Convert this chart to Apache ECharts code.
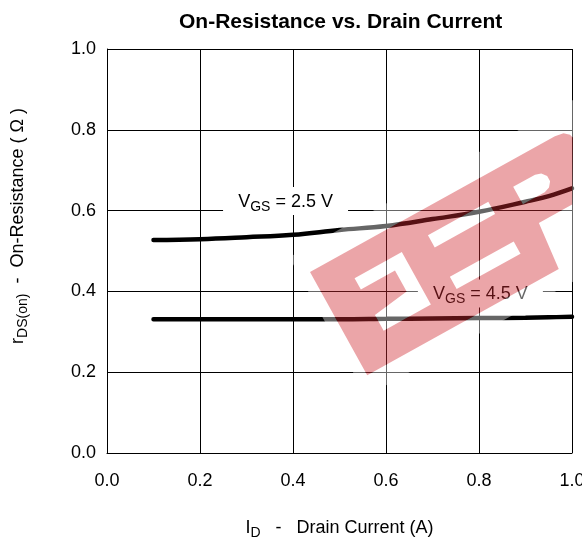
<!DOCTYPE html>
<html>
<head>
<meta charset="utf-8">
<script src="https://cdn.jsdelivr.net/npm/echarts@6/dist/echarts.min.js"></script>
<style>
html,body{margin:0;padding:0;background:#ffffff;overflow:hidden;}
#chart{width:582px;height:540px;}
</style>
</head>
<body>
<div id="chart"></div>
<script>
// ---- data ----
const drainCurrentA = [0.1, 0.2, 0.3, 0.4, 0.5, 0.6, 0.7, 0.8, 0.9, 0.95, 1.0];
const rdsVgs25 = [0.527, 0.529, 0.534, 0.540, 0.552, 0.562, 0.579, 0.597, 0.622, 0.636, 0.655];
const rdsVgs45 = [0.331, 0.331, 0.331, 0.331, 0.331, 0.332, 0.333, 0.334, 0.335, 0.336, 0.337];
const seriesNames = ['VGS = 2.5 V', 'VGS = 4.5 V'];
const xTickLabels = ['0.0', '0.2', '0.4', '0.6', '0.8', '1.0'];
const yTickLabels = ['0.0', '0.2', '0.4', '0.6', '0.8', '1.0'];

// annotation anchors (data coordinates of the curve labels)
const label25At = [0.384, 0.624];
const label45At = [0.803, 0.395];

const FONT = "'Liberation Sans', Arial, Helvetica, sans-serif";

function pairs(xs, ys) { return xs.map((x, i) => [x, ys[i]]); }

// ---- watermark (red translucent logo drawn over the plot) ----
function polyArea(p) { let s = 0; for (let i = 0; i < p.length; i++) { const a = p[i], b = p[(i + 1) % p.length]; s += a[0] * b[1] - b[0] * a[1]; } return s / 2; }
function orient(p, positive) { return (polyArea(p) > 0) === positive ? p : p.slice().reverse(); }
const wmOuter = [[0,0],[280,0],[289,1.5],[294,6],[295,10],[262,68],[224,68],[219,118],[0,118]];
const wmHoles = [
  [[36,27],[90,27],[90,87],[36,87],[36,69],[75,64],[75,40],[36,40]],
  [[121,25],[190,25],[190,39],[121,39]],
  [[120,72],[193,72],[193,86],[120,86]],
  [[219,24],[244,24],[250,26],[254,31],[254,37],[250,42],[244,44],[219,44]]
];
const wmFrame = [[-11,-23],[330,-23],[330,136],[-11,136]];
const redPolys = [orient(wmOuter, true)].concat(wmHoles.map(h => orient(h, false)));
const whitePolys = [orient(wmFrame, true), orient(wmOuter, false)].concat(wmHoles.map(h => orient(h, true)));

let wmType = null;
try {
  const WmShape = echarts.graphic.extendShape({
    shape: { polys: [] },
    buildPath: function (ctx, shape) {
      (shape.polys || []).forEach(function (p) {
        ctx.moveTo(p[0][0], p[0][1]);
        for (let i = 1; i < p.length; i++) ctx.lineTo(p[i][0], p[i][1]);
        ctx.closePath();
      });
    }
  });
  echarts.graphic.registerShape('wmPath', WmShape);
  wmType = 'wmPath';
} catch (e) { wmType = null; }

const graphic = [];
if (wmType) {
  graphic.push({
    type: 'group', x: 310, y: 272, rotation: 29 * Math.PI / 180, z: 100, silent: true,
    children: [
      { type: wmType, z: 100, shape: { polys: whitePolys }, style: { fill: 'rgba(255,255,255,0.4)' } },
      { type: wmType, z: 100, shape: { polys: redPolys }, style: { fill: 'rgba(207,40,48,0.42)' } }
    ]
  });
}

const subRich = {
  m: { fontSize: 18, lineHeight: 18, verticalAlign: 'top', color: '#000', fontFamily: FONT },
  s: { fontSize: 14, lineHeight: 28, color: '#000', fontFamily: FONT }
};

function curveLabel(coord, text) {
  return {
    silent: true,
    symbol: 'rect',
    symbolSize: [125, 28],
    itemStyle: { color: '#ffffff', borderWidth: 0 },
    label: {
      show: true, position: 'inside', offset: [0, 6],
      formatter: '{m|V}{s|GS}{m| = ' + text + '}',
      rich: subRich
    },
    data: [{ coord: coord }]
  };
}

const chart = echarts.init(document.getElementById('chart'), null, { renderer: 'canvas' });
chart.setOption({
  animation: false,
  backgroundColor: '#ffffff',
  title: {
    text: 'On-Resistance vs. Drain Current',
    left: 179, top: 10, padding: 0,
    textStyle: { fontSize: 21, fontWeight: 'bold', color: '#000', fontFamily: FONT, lineHeight: 24 }
  },
  grid: { left: 107, right: 10, top: 49, bottom: 87, containLabel: false, outerBoundsMode: 'none' },
  xAxis: {
    type: 'value', min: 0, max: 1, interval: 0.2,
    axisLine: { show: true, lineStyle: { color: '#000', width: 1 } },
    axisTick: { show: false },
    splitLine: { show: true, lineStyle: { color: '#000', width: 1 } },
    axisLabel: { fontSize: 18, color: '#000', fontFamily: FONT, margin: 19, lineHeight: 18, hideOverlap: false,
      formatter: function (v) { return xTickLabels[Math.round(v / 0.2)]; } },
    name: '{m|I}{s|D}{m|   -   Drain Current (A)}',
    nameLocation: 'middle', nameGap: 66,
    nameTextStyle: { rich: subRich }
  },
  yAxis: {
    type: 'value', min: 0, max: 1, interval: 0.2,
    axisLine: { show: true, lineStyle: { color: '#000', width: 1 } },
    axisTick: { show: false },
    splitLine: { show: true, lineStyle: { color: '#000', width: 1 } },
    axisLabel: { fontSize: 18, color: '#000', fontFamily: FONT, margin: 11,
      formatter: function (v) { return yTickLabels[Math.round(v / 0.2)]; } },
    name: '{m|r}{s|DS(on)}{m|  -  On-Resistance ( Ω )}',
    nameLocation: 'middle', nameGap: 70, nameRotate: 90,
    nameTextStyle: { rich: subRich, padding: [0, 0, 0, 50] }
  },
  series: [
    {
      name: seriesNames[0], type: 'line', data: pairs(drainCurrentA, rdsVgs25),
      smooth: 0.4, showSymbol: false, symbol: 'none',
      lineStyle: { color: '#000', width: 4.5, cap: 'round' },
      markPoint: curveLabel(label25At, '2.5 V')
    },
    {
      name: seriesNames[1], type: 'line', data: pairs(drainCurrentA, rdsVgs45),
      smooth: 0.4, showSymbol: false, symbol: 'none',
      lineStyle: { color: '#000', width: 4.5, cap: 'round' },
      markPoint: curveLabel(label45At, '4.5 V')
    }
  ],
  graphic: graphic
});
</script>
</body>
</html>
